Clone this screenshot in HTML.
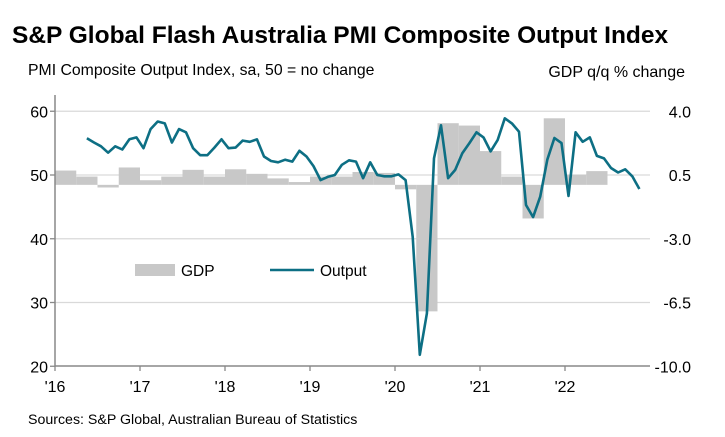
<!DOCTYPE html>
<html><head><meta charset="utf-8"><style>
body{margin:0;background:#fff;font-family:"Liberation Sans",Arial,sans-serif}
svg{display:block}
</style></head><body>
<svg id="c" width="725" height="437" xmlns="http://www.w3.org/2000/svg" font-family="Liberation Sans, Arial, sans-serif">
<text x="12" y="43" font-size="24.5" font-weight="bold" fill="#000">S&amp;P Global Flash Australia PMI Composite Output Index</text>
<text x="28" y="75" font-size="15.8" fill="#000">PMI Composite Output Index, sa, 50 = no change</text>
<text x="685" y="77" font-size="16" fill="#000" text-anchor="end">GDP q/q % change</text>
<text x="28" y="424" font-size="14.2" fill="#000">Sources: S&amp;P Global, Australian Bureau of Statistics</text>
<g id="grid"></g><g id="bars"></g><g id="axes"></g><g id="line"></g>
<g>
<rect x="135" y="264" width="40" height="12" fill="#c8c8c8"/>
<text x="181" y="276" font-size="15.5">GDP</text>
<line x1="270" y1="270" x2="314" y2="270" stroke="#0d6f84" stroke-width="2.6"/>
<text x="320" y="276" font-size="15.5">Output</text>
</g>
</svg>
<script>
const yearLabels=["'16","'17","'18","'19","'20","'21","'22"];
const leftTicks=[20,30,40,50,60];
const rightTicks=["4.0","0.5","-3.0","-6.5","-10.0"];
const gdp=[0.73,0.4,-0.2,0.9,0.2,0.4,0.77,0.4,0.8,0.55,0.3,0.1,0.4,0.4,0.65,0.6,-0.3,-7.0,3.33,3.2,1.8,0.4,-1.9,3.6,0.5,0.7];
const pmiStart=4; // May 2016, month index from Jan 2016
const pmi=[55.75,55.1,54.5,53.5,54.5,54.0,55.6,55.9,
54.2,57.2,58.4,58.1,55.1,57.2,56.7,54.2,53.1,53.1,54.3,55.6,
54.2,54.3,55.4,55.2,55.6,52.9,52.2,52.0,52.4,52.1,53.8,52.9,
51.4,49.2,49.7,50.0,51.6,52.3,52.1,49.5,52.0,50.0,49.8,49.8,
50.1,49.2,40.3,21.8,28.3,52.6,57.8,49.5,50.8,53.4,55.0,56.7,
55.9,53.7,55.5,58.9,58.1,56.8,45.3,43.4,46.6,52.4,55.8,55.0,
46.7,56.7,55.2,55.9,53.0,52.6,51.1,50.4,50.9,49.8,47.8];
const X0=55,X1=650,MONTHS=84;
const xm=m=>X0+(X1-X0)*m/MONTHS;
const yL=v=>175-(v-50)*6.375;
const yR=v=>111+(4-v)*(255/14);
const NS="http://www.w3.org/2000/svg";
function mk(tag,attrs,parent){const e=document.createElementNS(NS,tag);for(const k in attrs)e.setAttribute(k,attrs[k]);document.getElementById(parent).appendChild(e);return e;}
leftTicks.forEach((t,i)=>{
  const y=yL(t);
  if(t!==20){const g=mk('line',{x1:X0,x2:X1,y1:y,y2:y,stroke:'#d9d9d9','stroke-width':1.3},'grid');
  
  }
  const tk=mk('line',{x1:X0-5,x2:X0,y1:y,y2:y,stroke:'#888','stroke-width':1.3},'axes');
  
  
  const tx=mk('text',{x:48,y:y+6,'font-size':16,'text-anchor':'end'},'axes');tx.textContent=t;
  
  
  const rt=mk('text',{x:691,y:y+6,'font-size':16,'text-anchor':'end'},'axes');rt.textContent=rightTicks[leftTicks.length-1-i];
  
  
});
gdp.forEach((v,q)=>{
  const x=xm(q*3),w=xm(q*3+3)-x,y0=yR(0)+1,y1=yR(v);
  const r=mk('rect',{x:x,y:Math.min(y0,y1),width:w,height:Math.max(1,Math.abs(y1-y0)),fill:'#c8c8c8'},'bars');
  
  
});
const ax=mk('path',{d:`M${X0} 95 V366 H${X1}`,fill:'none',stroke:'#888','stroke-width':1.5},'axes');


yearLabels.forEach((l,i)=>{
  const x=xm(i*12);
  const t=mk('line',{x1:x,x2:x,y1:366,y2:371,stroke:'#888','stroke-width':1.3},'axes');
  
  
  const tx=mk('text',{x:x,y:392,'font-size':16,'text-anchor':'middle'},'axes');tx.textContent=l;
  
  
});
const pts=pmi.map((v,i)=>`${xm(pmiStart+i+0.5).toFixed(1)},${yL(v).toFixed(1)}`).join(' ');
const pl=mk('polyline',{points:pts,fill:'none',stroke:'#0d6f84','stroke-width':2.6,'stroke-linejoin':'round'},'line');


</script>
</body></html>
